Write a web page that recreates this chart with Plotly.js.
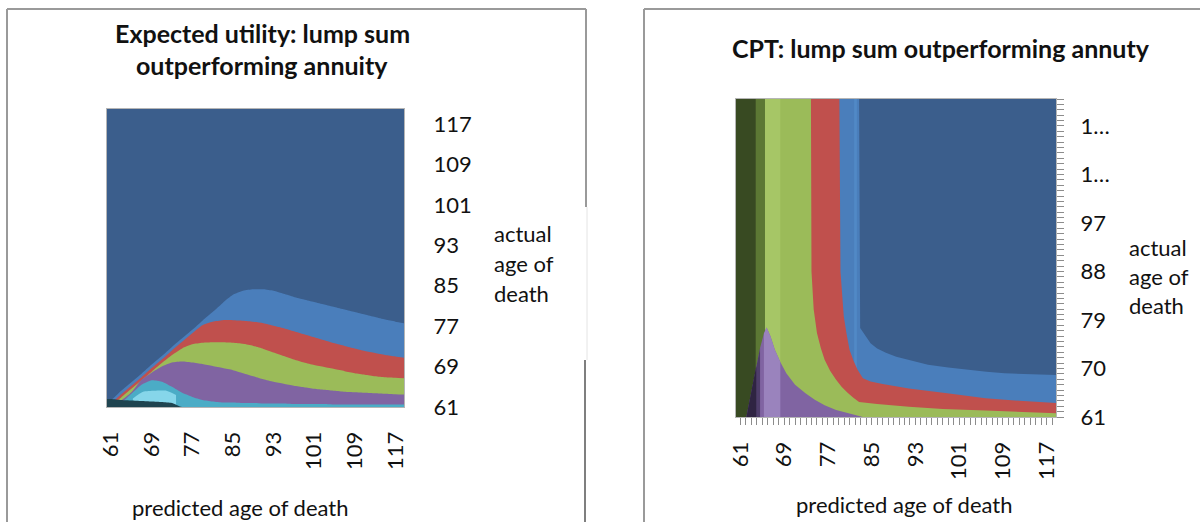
<!DOCTYPE html>
<html>
<head>
<meta charset="utf-8">
<script src="https://cdn.plot.ly/plotly-3.0.1.min.js"></script>
<style>
  html, body { margin: 0; padding: 0; background: #ffffff; }
  #chart { width: 1200px; height: 522px; }
</style>
</head>
<body>
<div id="chart"></div>
<script>
// ---------------- Expected-utility surface ----------------
// Predicted age of death at which each band edge is read
const euAges = [61, 63, 65, 67, 69, 71, 73, 75, 77, 79, 81, 83, 85, 87, 89,
                91, 93, 95, 97, 99, 101, 103, 105, 107, 109, 111, 113, 115, 117, 119];
// Upper edge (actual age of death) of each coloured band
const euLightBlueTop = [62.4, 64.2, 65.9, 67.6, 69.4, 71.1, 72.9, 74.6, 76.3, 78.1,
                        79.8, 81.6, 83.2, 84.0, 84.3, 84.3, 84.0, 83.4, 82.8, 82.3,
                        81.8, 81.3, 80.8, 80.3, 79.8, 79.3, 78.8, 78.3, 77.9, 77.5];
const euRedTop       = [61.8, 63.5, 65.2, 66.9, 68.7, 70.4, 72.2, 73.9, 75.6, 77.2,
                        77.9, 78.2, 78.2, 78.1, 77.9, 77.6, 77.1, 76.6, 76.0, 75.4,
                        74.8, 74.2, 73.6, 73.1, 72.6, 72.1, 71.7, 71.3, 71.0, 70.7];
const euGreenTop     = [61.4, 62.9, 64.6, 66.3, 68.0, 69.7, 71.3, 72.6, 73.4, 73.7,
                        73.8, 73.8, 73.7, 73.5, 73.1, 72.5, 71.8, 71.1, 70.4, 69.8,
                        69.3, 68.9, 68.5, 68.1, 67.7, 67.4, 67.1, 66.9, 66.8, 66.7];
const euPurpleTop    = [61.2, 62.3, 63.9, 66.4, 67.8, 69.0, 69.8, 70.0, 69.8, 69.5,
                        69.1, 68.7, 68.3, 67.7, 67.1, 66.5, 66.0, 65.6, 65.2, 64.9,
                        64.6, 64.4, 64.2, 64.0, 63.9, 63.8, 63.7, 63.6, 63.5, 63.5];
const euCyanTop      = [61.0, 61.8, 63.6, 65.4, 66.3, 66.0, 65.0, 63.8, 63.0, 62.4,
                        62.1, 61.9, 61.9, 61.8, 61.8, 61.7, 61.7, 61.7, 61.6, 61.6,
                        61.6, 61.6, 61.5, 61.5, 61.5, 61.5, 61.5, 61.5, 61.5, 61.5];
// pale cyan glint on the low ridge
const euGlowAges = [65.3, 67.3, 69.5, 71.9, 73.8];
const euGlowTop  = [62.7, 64.0, 64.2, 64.2, 63.4];
// dark floor in the lower-left corner
const euDarkAges = [61, 63, 65, 67, 69, 71, 73, 75];
const euDarkTop  = [62.6, 62.4, 62.3, 62.2, 62.1, 62.0, 61.8, 61.0];

// ---------------- CPT surface ----------------
// Each band edge as (predicted age, actual age) pairs, starting from the top of the surface
const cptBlueX  = [82.7, 82.9, 84.0, 84.8, 86.0, 87.6, 89.5, 91.8, 95.3, 99.0, 102.3, 106.0, 109.3, 114.0, 118.8];
const cptBlueY  = [120, 77.5, 76.0, 74.7, 73.7, 72.9, 72.2, 71.6, 70.7, 70.2, 69.8, 69.4, 69.1, 68.9, 68.8];
const cptRedX   = [79.1, 79.3, 79.9, 80.4, 80.95, 81.7, 82.4, 83.4, 84.8, 87.0, 91.8, 98.8, 105.8, 112.0, 118.8];
const cptRedY   = [120, 88.0, 79.7, 76.5, 73.5, 71.4, 69.8, 68.2, 67.6, 67.1, 66.3, 65.4, 64.5, 64.0, 63.6];
const cptGreenX = [73.9, 74.0, 74.4, 75.0, 75.7, 76.4, 77.4, 78.5, 79.5, 80.6, 81.6, 82.7, 86.0, 91.8, 98.0, 105.8, 112.0, 118.8];
const cptGreenY = [120, 88.0, 81.0, 76.6, 73.8, 71.6, 69.6, 67.9, 66.6, 65.5, 64.6, 63.8, 63.4, 62.9, 62.5, 62.2, 61.9, 61.7];
const cptPurpleX = [62.1, 62.6, 63.2, 63.9, 64.6, 65.3, 65.8, 66.5, 67.3, 68.3, 69.4, 71.0, 72.9, 74.6, 76.4, 78.5, 80.6, 83.4];
const cptPurpleY = [61.0, 63.5, 66.5, 70.4, 73.8, 76.5, 77.6, 76.0, 73.5, 71.2, 69.1, 67.0, 65.4, 64.2, 63.2, 62.3, 61.7, 61.0];
const cptDarkGreenEdge = 63.8;   // right edge of the dark green strip
const cptMidGreenEdge  = 65.5;   // right edge of the mid green strip
const cptPaleGreenEdge = 68.3;   // right edge of the pale green sheen
const cptBlueSheen     = [81.8, 82.3];   // lighter line inside the light blue strip

// ---------------- Axis labels ----------------
const predictedTicks = [61, 69, 77, 85, 93, 101, 109, 117];
const euActualTicks  = [61, 69, 77, 85, 93, 101, 109, 117];
const cptActualTicks = [61, 70, 79, 88, 97, 106, 115];
const cptActualText  = ['61', '70', '79', '88', '97', '1…', '1…'];

// ---------------- Drawing ----------------
const X_RANGE = [60.2, 118.7];
const Y_RANGE = [61, 120];
const W = 1200, H = 522;
const px = v => v / W;          // figure pixel -> paper x
const py = v => 1 - v / H;      // figure pixel -> paper y

const COLORS = {
  darkBlue: '#3B5E8C', lightBlue: '#4A7EBB', red: '#C0504D', green: '#9BBB59',
  purple: '#8064A2', cyan: '#4BACC6', glow: '#86D6EA', darkTeal: '#1F4450',
  darkGreen: '#384A22', midGreen: '#5C7834', paleGreen: '#A6C666',
  blueSheen: '#5189C6',
  deepPurple: '#2F2442', shadePurple: '#4E3D6A', lavender: '#9A83BD'
};

function area(x, y, color, xa, ya, shape) {
  return {
    type: 'scatter', mode: 'lines', x: x, y: y, fill: 'tozeroy',
    fillcolor: color, line: { width: 0, color: color, shape: shape || 'linear', smoothing: 0.6 },
    hoverinfo: 'skip', showlegend: false, xaxis: xa, yaxis: ya
  };
}
// band from the lower edge of the plot up to the given edge, carried across the full width
function band(xs, ys, color, xa, ya, shape) {
  const x = [X_RANGE[0]].concat(xs);
  const y = [ys[0]].concat(ys);
  if (x[x.length - 1] < X_RANGE[1]) { x.push(X_RANGE[1]); y.push(ys[ys.length - 1]); }
  return area(x, y, color, xa, ya, shape);
}
// full-height strip between two predicted ages
function strip(lo, hi, color, xa, ya) {
  return area([lo, hi], [Y_RANGE[1], Y_RANGE[1]], color, xa, ya);
}
// part of the purple hump between two predicted ages
function humpPart(lo, hi, color) {
  const x = [], y = [];
  cptPurpleX.forEach((v, i) => { if (v >= lo && v <= hi) { x.push(v); y.push(cptPurpleY[i]); } });
  return area(x, y, color, 'x2', 'y2');
}

const traces = [
  band(euAges, euLightBlueTop, COLORS.lightBlue, 'x', 'y', 'spline'),
  band(euAges, euRedTop,       COLORS.red,       'x', 'y', 'spline'),
  band(euAges, euGreenTop,     COLORS.green,     'x', 'y', 'spline'),
  band(euAges, euPurpleTop,    COLORS.purple,    'x', 'y', 'spline'),
  band(euAges, euCyanTop,      COLORS.cyan,      'x', 'y', 'spline'),
  area(euGlowAges, euGlowTop,  COLORS.glow,      'x', 'y', 'spline'),
  band(euDarkAges, euDarkTop,  COLORS.darkTeal,  'x', 'y', 'spline'),

  band(cptBlueX,  cptBlueY,  COLORS.lightBlue, 'x2', 'y2'),
  strip(cptBlueSheen[0], cptBlueSheen[1], COLORS.blueSheen, 'x2', 'y2'),
  band(cptRedX,   cptRedY,   COLORS.red,       'x2', 'y2'),
  band(cptGreenX, cptGreenY, COLORS.green,     'x2', 'y2'),
  strip(X_RANGE[0], cptPaleGreenEdge, COLORS.paleGreen, 'x2', 'y2'),
  strip(X_RANGE[0], cptMidGreenEdge,  COLORS.midGreen,  'x2', 'y2'),
  strip(X_RANGE[0], cptDarkGreenEdge, COLORS.darkGreen, 'x2', 'y2'),
  area(cptPurpleX, cptPurpleY, COLORS.purple, 'x2', 'y2'),
  humpPart(62.0, 64.6, COLORS.shadePurple),
  humpPart(62.0, 63.9, COLORS.deepPurple),
  humpPart(65.3, 68.3, COLORS.lavender)
];

const tickFont  = { family: 'Lato, sans-serif', size: 22, color: '#111111' };
const textFont  = { family: 'Lato, sans-serif', size: 22, color: '#111111' };
const titleFont = { family: 'Lato, sans-serif', size: 25, color: '#111111', weight: 700 };

const baseAxis = {
  showgrid: false, zeroline: false, fixedrange: true,
  showline: true, linecolor: '#B5B5B5', linewidth: 1, mirror: true,
  tickfont: tickFont, tickmode: 'array'
};

const layout = {
  width: W, height: H,
  margin: { l: 0, r: 0, t: 0, b: 0 },
  paper_bgcolor: '#ffffff', plot_bgcolor: COLORS.darkBlue,
  showlegend: false,
  xaxis: Object.assign({}, baseAxis, {
    domain: [px(107), px(404)], range: X_RANGE, anchor: 'y',
    tickvals: predictedTicks, ticktext: predictedTicks.map(String),
    tickangle: -90, ticks: '', ticklabelstandoff: 15
  }),
  yaxis: Object.assign({}, baseAxis, {
    domain: [py(407), py(109)], range: Y_RANGE, anchor: 'x', side: 'right',
    tickvals: euActualTicks, ticktext: euActualTicks.map(String),
    ticks: '', ticklabelstandoff: 24
  }),
  xaxis2: Object.assign({}, baseAxis, {
    domain: [px(736), px(1056)], range: X_RANGE, anchor: 'y2',
    tickvals: predictedTicks, ticktext: predictedTicks.map(String),
    tickangle: -90, ticks: 'outside', ticklen: 7, tickcolor: '#8C8C8C',
    minor: { tickmode: 'linear', tick0: 61, dtick: 1, ticks: 'outside', ticklen: 7, tickcolor: '#8C8C8C' },
    ticklabelstandoff: 8
  }),
  yaxis2: Object.assign({}, baseAxis, {
    domain: [py(417), py(99)], range: Y_RANGE, anchor: 'x2', side: 'right',
    tickvals: cptActualTicks, ticktext: cptActualText,
    ticks: 'outside', ticklen: 7, tickcolor: '#8C8C8C',
    minor: { tickmode: 'linear', tick0: 61, dtick: 1, ticks: 'outside', ticklen: 7, tickcolor: '#8C8C8C' },
    ticklabelstandoff: 12
  }),
  annotations: [
    { text: 'Expected utility: lump sum', x: px(262), y: py(33), font: titleFont },
    { text: 'outperforming annuity',     x: px(262), y: py(65), font: titleFont },
    { text: 'CPT: lump sum outperforming annuty', x: px(941), y: py(48), font: titleFont },
    { text: 'predicted age of death', x: px(240), y: py(507), font: textFont },
    { text: 'predicted age of death', x: px(904), y: py(504), font: textFont },
    { text: 'actual', x: px(492), y: py(233), font: textFont, xanchor: 'left' },
    { text: 'age of', x: px(492), y: py(263), font: textFont, xanchor: 'left' },
    { text: 'death',  x: px(492), y: py(293), font: textFont, xanchor: 'left' },
    { text: 'actual', x: px(1127), y: py(247), font: textFont, xanchor: 'left' },
    { text: 'age of', x: px(1127), y: py(276), font: textFont, xanchor: 'left' },
    { text: 'death',  x: px(1127), y: py(305), font: textFont, xanchor: 'left' }
  ].map(a => Object.assign({ xref: 'paper', yref: 'paper', showarrow: false,
                             xanchor: 'center', yanchor: 'middle' }, a)),
  shapes: [
    // left panel frame
    { x0: px(7), x1: px(586), y0: py(9), y1: py(9) },
    { x0: px(7), x1: px(7), y0: py(9), y1: py(530) },
    { x0: px(586), x1: px(586), y0: py(9), y1: py(207) },
    { x0: px(587), x1: px(587), y0: py(207), y1: py(360), line: { color: '#E4E4E4', width: 1 } },
    { x0: px(585), x1: px(585), y0: py(360), y1: py(530), line: { color: '#7F7F7F', width: 2 } },
    // right panel frame
    { x0: px(644), x1: px(1210), y0: py(9), y1: py(9) },
    { x0: px(644), x1: px(644), y0: py(9), y1: py(530) }
  ].map(s => Object.assign({ type: 'line', xref: 'paper', yref: 'paper',
                             line: { color: '#9A9A9A', width: 2 } }, s))
};

Plotly.newPlot('chart', traces, layout, { staticPlot: true, displayModeBar: false });
</script>
</body>
</html>
